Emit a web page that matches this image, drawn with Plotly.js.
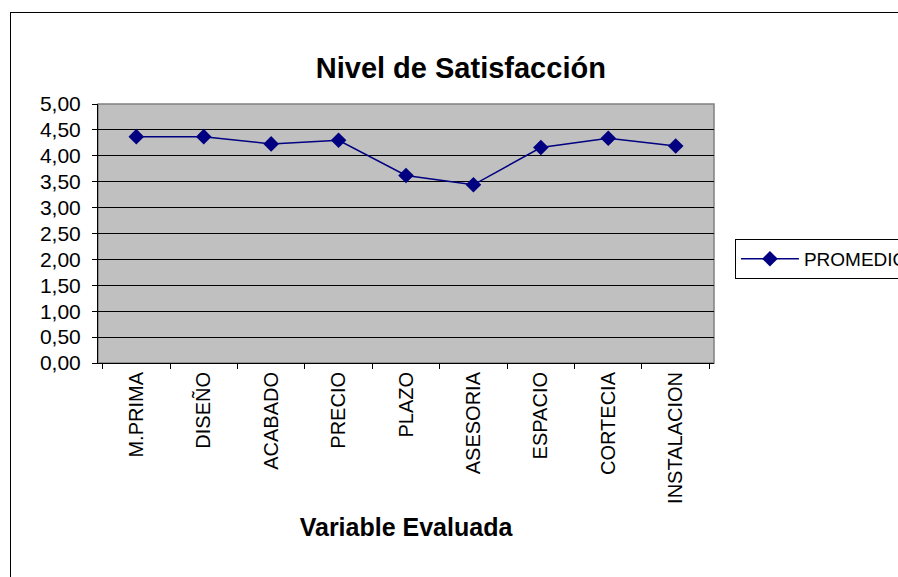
<!DOCTYPE html>
<html>
<head>
<meta charset="utf-8">
<script src="https://cdn.plot.ly/plotly-3.0.1.min.js"></script>
<style>
html,body{margin:0;padding:0;width:898px;height:577px;overflow:hidden;background:#fff;}
#chart{position:absolute;left:10px;top:12px;width:960px;height:600px;border-left:1px solid #000;border-top:1px solid #000;}
</style>
</head>
<body>
<div id="chart"></div>
<script>
const categories = ["M.PRIMA","DISEÑO","ACABADO","PRECIO","PLAZO","ASESORIA","ESPACIO","CORTECIA","INSTALACION"];
const promedio = [4.37, 4.37, 4.23, 4.30, 3.62, 3.44, 4.16, 4.34, 4.19];
const seriesName = "PROMEDIO";
const chartTitle = "Nivel de Satisfacción";
const xTitle = "Variable Evaluada";

const FONT = "Liberation Sans, Arial, sans-serif";
const trace = {
  type: "scatter",
  mode: "lines+markers",
  x: categories,
  y: promedio,
  name: seriesName,
  line: {color: "#000080", width: 1.5},
  marker: {symbol: "diamond", size: 12, color: "#000080"}
};
const layout = {
  width: 960, height: 600,
  margin: {l: 87, r: 257, t: 91, b: 250},
  paper_bgcolor: "#ffffff",
  plot_bgcolor: "#C0C0C0",
  separators: ",.",
  font: {family: FONT, color: "#000", size: 18},
  title: {text: "<b>" + chartTitle + "</b>", font: {family: FONT, size: 29, color: "#000"},
          x: 0.589, xref: "paper", xanchor: "center", y: 1 - 55/600, yref: "container", yanchor: "middle"},
  xaxis: {
    type: "category",
    tickangle: -90,
    ticks: "outside", ticklen: 5, tickcolor: "#000", tickson: "boundaries",
    showline: true, linecolor: "#000", linewidth: 1,
    showgrid: false,
    tickfont: {family: FONT, size: 20, color: "#000"},
    title: {text: "<b>" + xTitle + "</b>", font: {family: FONT, size: 25, color: "#000"}, standoff: 15}
  },
  yaxis: {
    range: [0, 5], dtick: 0.5, tick0: 0, tickformat: ".2f",
    ticks: "outside", ticklen: 5, tickcolor: "#000", ticklabelstandoff: 7,
    showline: true, linecolor: "#000", linewidth: 1,
    showgrid: true, gridcolor: "#000", gridwidth: 1,
    zeroline: false,
    tickfont: {family: FONT, size: 21, color: "#000"}
  },
  shapes: [{type: "rect", xref: "paper", yref: "paper", x0: 0, x1: 1, y0: 0, y1: 1,
            line: {color: "#808080", width: 1.5}, layer: "below"}],
  showlegend: true,
  legend: {x: 1.034, y: 0.479, xanchor: "left", yanchor: "top",
           bordercolor: "#000", borderwidth: 1, bgcolor: "#fff", itemwidth: 58,
           font: {family: FONT, size: 19, color: "#000"}}
};
Plotly.newPlot("chart", [trace], layout, {displayModeBar: false, staticPlot: true});
</script>
</body>
</html>
